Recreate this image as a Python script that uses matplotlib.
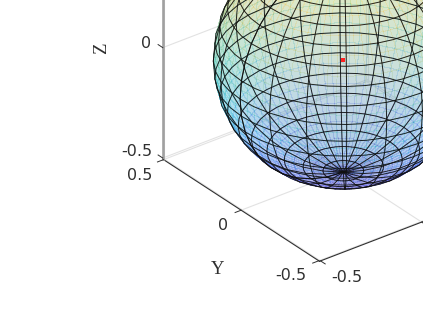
import matplotlib
matplotlib.use('Agg')
import matplotlib.pyplot as plt
import numpy as np
from matplotlib.colors import LinearSegmentedColormap
from mpl_toolkits.mplot3d.art3d import Poly3DCollection

# sphere seen from the default matlab view, cropped by the figure edge
radius = 0.51
n_lon = 40
n_lat = 20
subdiv = 2
lim = 0.505
ticks = [-0.5, 0, 0.5]
centre_point = [0, 0, 0]

parula = [(.2422, .1504, .6603), (.2810, .3228, .9579), (.1540, .5902, .9218),
          (.0297, .7082, .8163), (.1986, .7214, .6310), (.4420, .7481, .5033),
          (.7802, .7406, .3), (.9856, .7372, .2537), (.9769, .9839, .0805)]
cmap = LinearSegmentedColormap.from_list('parula', parula)

W, H = 423, 317
fig = plt.figure(figsize=(W / 100, H / 100), dpi=100)


def px(x, y):
    return x / W, 1 - y / H


# square axes that run off the figure, placed so the origin lands on (ox, oy)
side = 255 * 2 * lim / 0.5948
ox, oy = 343.3, 59.5
frac = 0.95 / 1.85
ax = fig.add_axes([(ox - frac * side) / W, (H - oy - frac * side) / H, side / W, side / H],
                  projection='3d', proj_type='ortho', computed_zorder=False)
ax.view_init(elev=30, azim=-127.5)
ax.set_xlim(-lim, lim)
ax.set_ylim(-lim, lim)
ax.set_zlim(-lim, lim)
ax.set_box_aspect((1, 1, 1))
ax.set_axis_off()
ax.patch.set_alpha(0)

grid_kw = dict(color='#e2e2e2', lw=0.8, zorder=1)
for t in ticks:
    ax.plot([t, t], [lim, lim], [-lim, lim], **grid_kw)
    ax.plot([t, t], [-lim, lim], [-lim, -lim], **grid_kw)
    ax.plot([lim, lim], [t, t], [-lim, lim], **grid_kw)
    ax.plot([-lim, lim], [t, t], [-lim, -lim], **grid_kw)
    ax.plot([-lim, lim], [lim, lim], [t, t], **grid_kw)
    ax.plot([lim, lim], [-lim, lim], [t, t], **grid_kw)

# coarse mesh, then straight subdivision of each face so colour runs smoothly
theta = np.linspace(-np.pi, np.pi, n_lon + 1)
phi = np.linspace(-np.pi / 2, np.pi / 2, n_lat + 1)
X0 = radius * np.outer(np.cos(phi), np.cos(theta))
Y0 = radius * np.outer(np.cos(phi), np.sin(theta))
Z0 = radius * np.outer(np.sin(phi), np.ones_like(theta))


def refine(A):
    ii = np.linspace(0, n_lat, n_lat * subdiv + 1)
    jj = np.linspace(0, n_lon, n_lon * subdiv + 1)
    A = np.array([np.interp(jj, np.arange(n_lon + 1), row) for row in A])
    return np.array([np.interp(ii, np.arange(n_lat + 1), col) for col in A.T]).T


X, Y, Z = refine(X0), refine(Y0), refine(Z0)
verts = []
cols = []
for i in range(X.shape[0] - 1):
    for j in range(X.shape[1] - 1):
        verts.append([(X[i, j], Y[i, j], Z[i, j]), (X[i, j + 1], Y[i, j + 1], Z[i, j + 1]),
                      (X[i + 1, j + 1], Y[i + 1, j + 1], Z[i + 1, j + 1]), (X[i + 1, j], Y[i + 1, j], Z[i + 1, j])])
        zmid = (Z[i, j] + Z[i + 1, j]) / 2
        cols.append(cmap((zmid + radius) / (2 * radius), alpha=0.2))
faces = Poly3DCollection(verts, facecolors=cols, edgecolors='none', antialiased=False, zorder=2)
ax.add_collection3d(faces)

# rings on every row, meridians on every second column
ax.plot_wireframe(X0, Y0, Z0, rstride=1, cstride=2, color='#101010', lw=0.7, alpha=0.9, zorder=3)

ax.plot(*[[c] for c in centre_point], 's', color='#ff2020', ms=2.5, mew=0, zorder=4)

# axis lines and ticks
dark = '#303030'
ax.plot([-lim, -lim], [-lim, lim], [-lim, -lim], color=dark, lw=0.8, zorder=5)
ax.plot([-lim, lim], [-lim, -lim], [-lim, -lim], color=dark, lw=0.8, zorder=5)
ax.plot([-lim, -lim], [lim, lim], [-lim, lim], color='#a0a0a0', lw=1.9, zorder=5)
tick_len = 0.03
for t in ticks:
    ax.plot([-lim, -lim - tick_len], [t, t], [-lim, -lim], color=dark, lw=0.7, zorder=5)
    ax.plot([t, t], [-lim, -lim - tick_len], [-lim, -lim], color=dark, lw=0.7, zorder=5)
    ax.plot([-lim, -lim], [lim, lim + tick_len], [t, t], color=dark, lw=0.7, zorder=5)

txt = dict(color='#303030', fontsize=11.5, ha='center', va='center', family='DejaVu Sans')
fig.text(*px(137, 152), '-0.5', **txt)
fig.text(*px(146.5, 43), '0', **txt)
fig.text(*px(139.5, 175), '0.5', **txt)
fig.text(*px(223, 226), '0', **txt)
fig.text(*px(291, 275), '-0.5', **txt)
fig.text(*px(347, 278), '-0.5', **txt)
lab = dict(color='#303030', fontsize=13.5, ha='center', va='center', family='Liberation Serif')
fig.text(*px(217.5, 270), 'Y', **lab)
fig.text(*px(102, 48), 'Z', rotation=90, **lab)

fig.savefig('out.png', dpi=100)
